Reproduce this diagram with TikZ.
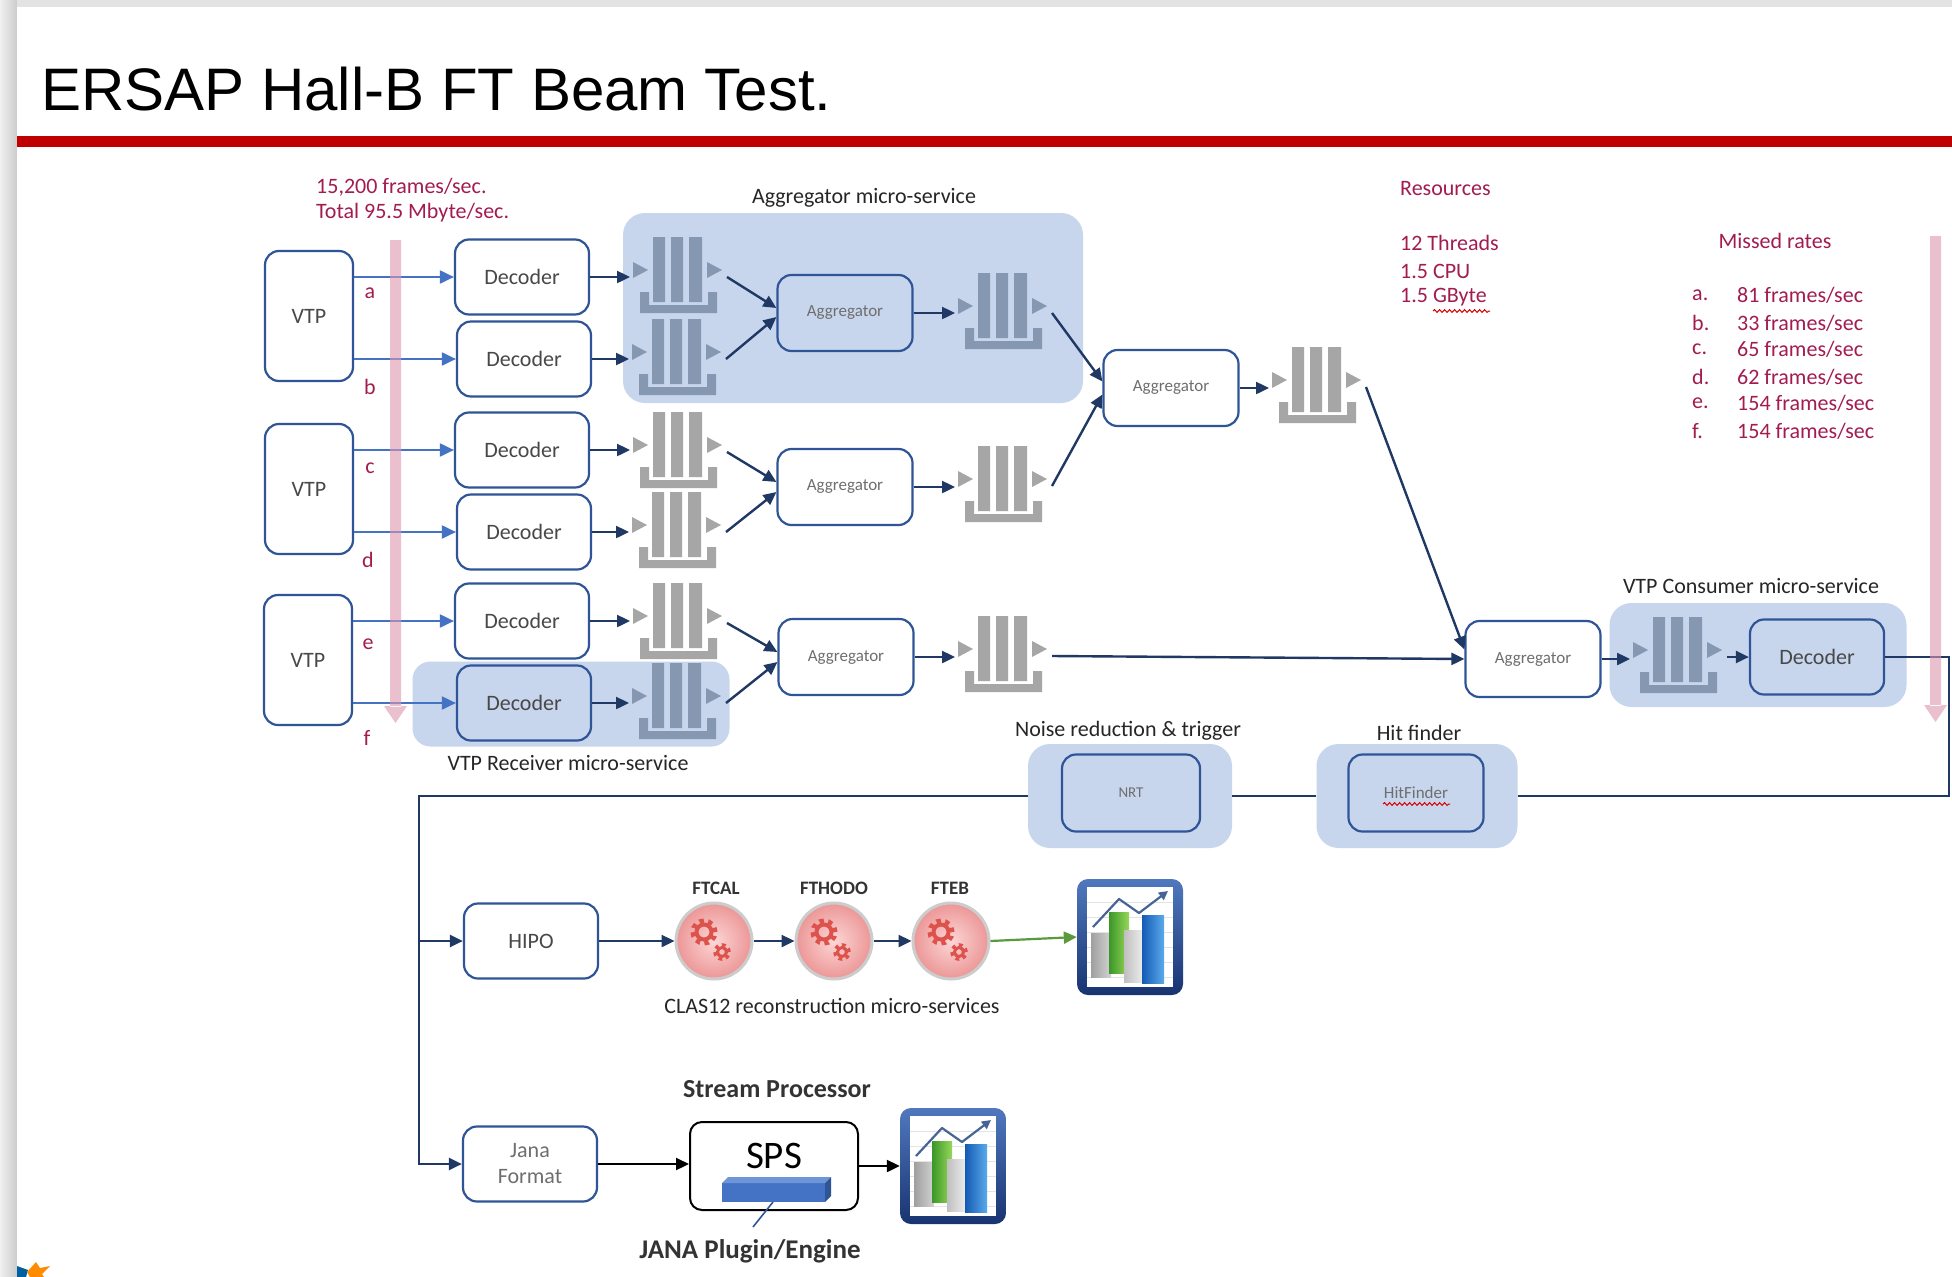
\documentclass[tikz,border=0pt]{standalone}
\usepackage{fontspec}
\setmainfont{Carlito}
\newfontfamily\titlefont{Liberation Sans}
\usetikzlibrary{arrows.meta,decorations.pathmorphing,calc}

\definecolor{navy}{RGB}{32,56,100}
\definecolor{boxblue}{RGB}{47,85,151}
\definecolor{linkblue}{RGB}{68,114,196}
\definecolor{regionblue}{RGB}{199,214,237}
\definecolor{qgray}{RGB}{166,166,166}
\definecolor{qblue}{RGB}{134,151,178}
\definecolor{crimson}{RGB}{163,28,80}
\definecolor{pinkbar}{RGB}{220,150,176}
\definecolor{titlered}{RGB}{192,0,0}
\definecolor{boxtxt}{RGB}{72,72,72}
\definecolor{aggtxt}{RGB}{110,110,110}
\definecolor{flowgreen}{RGB}{90,154,60}
\definecolor{gearred}{RGB}{222,82,76}
\definecolor{pinkin}{RGB}{252,214,214}
\definecolor{pinkout}{RGB}{236,150,150}
\definecolor{frameA}{RGB}{80,120,190}
\definecolor{frameB}{RGB}{24,52,112}
\definecolor{chgreenA}{RGB}{60,150,40}
\definecolor{chgreenB}{RGB}{150,215,90}
\definecolor{chblueA}{RGB}{20,90,180}
\definecolor{chblueB}{RGB}{90,170,235}
\definecolor{trend}{RGB}{70,100,150}
\definecolor{barfront}{RGB}{68,114,196}
\definecolor{bartop}{RGB}{110,150,215}
\definecolor{barside}{RGB}{47,85,151}

\newcommand\fsz[1]{\fontsize{#1}{#1}\selectfont}

\tikzset{
  region/.style={fill=regionblue, rounded corners=22pt, inner sep=0pt},
  box/.style={draw=boxblue, line width=2.2pt, rounded corners=14pt, inner sep=0pt,
    text=boxtxt, font=\fsz{22}},
  vtpbox/.style={box, minimum width=88pt, minimum height=130pt},
  decbox/.style={box, minimum width=134pt, minimum height=75pt},
  aggbox/.style={box, minimum width=135pt, minimum height=76pt, text=aggtxt, font=\fsz{17}},
  flow/.style={draw=navy, line width=2.4pt, -{Triangle[length=13pt,width=12pt]}},
  flowline/.style={draw=navy, line width=2.4pt},
  vtplink/.style={draw=linkblue, line width=2pt, -{Triangle[length=14pt,width=13pt]}},
  blackflow/.style={draw=black, line width=2.2pt, -{Triangle[length=13pt,width=12pt]}},
  greenflow/.style={draw=flowgreen, line width=2.2pt, -{Triangle[length=13pt,width=12pt]}},
  lbl/.style={inner sep=0pt, font=\fsz{22}, text=black!85},
  crim/.style={inner sep=0pt, font=\fsz{22}, text=crimson},
  boldlbl/.style={inner sep=0pt, text=black!80, font=\bfseries\fsz{#1}},
  recon/.style={circle, minimum size=76pt, inner sep=0pt, inner color=pinkin,
    outer color=pinkout, draw=gray!40, line width=3pt},
  iconslot/.style={minimum width=106pt, minimum height=116pt, inner sep=0pt},
  squiggle/.style={draw=red!85!black, line width=1pt, decorate,
    decoration={snake, amplitude=1.4pt, segment length=5pt}},
  % queue glyph: three bars, a tray and in/out triangles
  pics/queue/.style={code={
    \fill[#1] (-24,-33) rectangle (-12,32) (-6,-33) rectangle (6,32) (12,-33) rectangle (25,32);
    \fill[#1] (-37,22) -- (-28,22) -- (-28,35) -- (31,35) -- (31,22) -- (40,22)
              -- (40,43) -- (-37,43) -- cycle;
    \fill[#1] (-44,-8) -- (-29,0) -- (-44,8) -- cycle (30,-8) -- (45,0) -- (30,8) -- cycle;
    \coordinate (-in) at (-47,7);
    \coordinate (-out) at (50,7);
  }},
  % two red gears
  pics/gears/.style={code={
    \draw[gearred, line width=4pt] (-10,-9) circle (7.5pt);
    \draw[gearred, line width=4.2pt, dash pattern=on 4.52pt off 4.52pt] (-10,-9) circle (11.5pt);
    \draw[gearred, line width=3pt] (8,11) circle (4.5pt);
    \draw[gearred, line width=3.2pt, dash pattern=on 3.77pt off 3.77pt] (8,11) circle (7.2pt);
  }},
  % framed bar chart icon
  pics/chart/.style={code={
    \shade[rounded corners=11pt, top color=frameA, bottom color=frameB] (-53,-58) rectangle (53,58);
    \fill[white] (-43,-50) rectangle (43,50);
    \foreach \gy in {-35,-20,...,40} \draw[gray!22, line width=0.6pt] (-43,\gy) -- (43,\gy);
    \shade[left color=gray!75, right color=gray!35] (-39,-4) rectangle (-19,40);
    \shade[left color=chgreenA, right color=chgreenB] (-21,-25) rectangle (-1,36);
    \shade[left color=gray!50, right color=gray!12] (-6,-7) rectangle (14,45);
    \shade[left color=chblueA, right color=chblueB] (12,-22) rectangle (34,46);
    \draw[trend, line width=2.2pt, line join=round, -{Triangle[length=9pt,width=9pt]}]
      (-37,-10) -- (-11,-38) -- (9,-24) -- (38,-46);
  }},
}

\begin{document}
\begin{tikzpicture}[x=1pt,y=-1pt]
\useasboundingbox (0,0) rectangle (1952,1277);

% slide page and its shadow
\fill[gray!22] (0,0) rectangle (1952,1277);
\shade[left color=gray!12, right color=gray!40] (0,0) rectangle (17,1277);
\fill[white] (17,7) rectangle (1952,1277);
\fill[teal!75!blue] (17,1277) -- (17,1266) -- (28,1270) -- (26,1277) -- cycle;
\fill[orange!90!yellow] (27,1272) -- (36,1262) -- (40,1268) -- (50,1266) -- (42,1274)
   -- (44,1277) -- (30,1277) -- cycle;

% heading
\node[anchor=base west, inner sep=0pt, font=\titlefont\fontsize{60}{72}\selectfont]
  (title) at (41,110) {ERSAP Hall-B FT Beam Test.};
\fill[titlered] (17,136) rectangle (1952,147);

% micro-service regions
\node[region, minimum width=460pt, minimum height=190pt] (rgAgg) at (853,308) {};
\node[region, rounded corners=18pt, minimum width=317pt, minimum height=85pt] (rgRecv) at (571,704) {};
\node[region, minimum width=297pt, minimum height=104pt] (rgCons) at (1758,655) {};
\node[region, minimum width=204pt, minimum height=104pt] (rgNRT) at (1130,796) {};
\node[region, minimum width=201pt, minimum height=104pt] (rgHit) at (1417,796) {};

\node[lbl] (lblAgg) at (864,198) {Aggregator micro-service};
\node[lbl] (lblRecv) at (568,763) {VTP Receiver micro-service};
\node[lbl] (lblCons) at (1751,586) {VTP Consumer micro-service};
\node[lbl] (lblNRT) at (1128,731) {Noise reduction \& trigger};
\node[lbl] (lblHit) at (1419,733) {Hit finder};

% rates and resources
\node[crim, anchor=west] (rate1) at (316,187) {15,200 frames/sec.};
\node[crim, anchor=west] (rate2) at (316,213) {Total 95.5 Mbyte/sec.};
\node[crim, anchor=west] (res) at (1400,189) {Resources};
\node[crim, anchor=west] (res1) at (1400,243) {12 Threads};
\node[crim, anchor=west] (res2) at (1400,271) {1.5 CPU};
\node[crim, anchor=west] (res3) at (1400,297) {1.5 GByte};
\draw[squiggle] (1433,311) -- (1490,311);
\node[crim] (missed) at (1775,241) {Missed rates};
\foreach \k/\yy/\v in {a/295/81, b/323/33, c/349/65, d/377/62, e/403/154, f/431/154}{
  \node[crim, anchor=west] (ml\k) at (1692,\yy) {\k.};
  \node[crim, anchor=west] (mv\k) at (1737,\yy) {\v\ frames/sec};
}

% VTP sources and decoders
\node[vtpbox] (vtp1) at (309,316) {VTP};
\node[vtpbox] (vtp2) at (309,489) {VTP};
\node[vtpbox] (vtp3) at (308,660) {VTP};
\node[decbox] (d1) at (522,277) {Decoder};
\node[decbox] (d2) at (524,359) {Decoder};
\node[decbox] (d3) at (522,450) {Decoder};
\node[decbox] (d4) at (524,532) {Decoder};
\node[decbox] (d5) at (522,621) {Decoder};
\node[decbox] (d6) at (524,703) {Decoder};

\draw[vtplink] (vtp1.east |- d1) -- (d1.west);
\draw[vtplink] (vtp1.east |- d2) -- (d2.west);
\draw[vtplink] (vtp2.east |- d3) -- (d3.west);
\draw[vtplink] (vtp2.east |- d4) -- (d4.west);
\draw[vtplink] (vtp3.east |- d5) -- (d5.west);
\draw[vtplink] (vtp3.east |- d6) -- (d6.west);

\foreach \k/\xx/\yy in {a/370/293, b/370/387, c/370/468, d/368/560, e/368/644, f/367/738}
  \node[crim] (ch\k) at (\xx,\yy) {\k};

% queues
\pic (q1) at (677,270) {queue=qblue};
\pic (q2) at (676,352) {queue=qblue};
\pic (q3) at (677,445) {queue=qgray};
\pic (q4) at (676,525) {queue=qgray};
\pic (q5) at (677,616) {queue=qgray};
\pic (q6) at (676,696) {queue=qblue};
\pic (qa1) at (1002,306) {queue=qblue};
\pic (qa2) at (1002,479) {queue=qgray};
\pic (qa3) at (1002,649) {queue=qgray};
\pic (qm) at (1316,380) {queue=qgray};
\pic (qc) at (1677,650) {queue=qblue};

% aggregators
\node[aggbox] (a1) at (845,313) {Aggregator};
\node[aggbox] (a2) at (845,487) {Aggregator};
\node[aggbox] (a3) at (846,657) {Aggregator};
\node[aggbox] (am) at (1171,388) {Aggregator};
\node[aggbox] (af) at (1533,659) {Aggregator};
\node[decbox] (df) at (1817,657) {Decoder};

% decoder to queue
\foreach \n in {1,...,6}
  \draw[flow] (d\n.east) -- (d\n.east -| q\n-in);

% queues into aggregators
\draw[flow] (q1-out) -- ([yshift=5pt]a1.west);
\draw[flow] (q2-out) -- ([yshift=-4pt]a1.west);
\draw[flow] (q3-out) -- ([yshift=5pt]a2.west);
\draw[flow] (q4-out) -- ([yshift=-5pt]a2.west);
\draw[flow] (q5-out) -- ([yshift=5pt]a3.west);
\draw[flow] (q6-out) -- ([yshift=-5pt]a3.west);
\draw[flow] (a1.east) -- (a1.east -| qa1-in);
\draw[flow] (a2.east) -- (a2.east -| qa2-in);
\draw[flow] (a3.east) -- (a3.east -| qa3-in);
\draw[flow] (qa1-out) -- ([yshift=6.5pt]am.west);
\draw[flow] (qa2-out) -- ([yshift=-6.5pt]am.west);
\draw[flow] (am.east) -- (am.east -| qm-in);
\draw[flow] (qm-out) -- ([yshift=9.5pt]af.west);
\draw[flow] (qa3-out) -- (af.west);
\draw[flow] (af.east) -- (af.east -| qc-in);
\draw[flow] (qc-out) -- (qc-out -| df.west);

% processing chain
\node[box, minimum width=138pt, minimum height=77pt, font=\fsz{15}, text=aggtxt] (nrt) at (1131,793) {NRT};
\node[box, minimum width=135pt, minimum height=77pt, font=\fsz{17}, text=aggtxt] (hitf) at (1416,793) {HitFinder};
\draw[squiggle] (1383,804) -- (1450,804);

\node[decbox] (hipo) at (531,941) {HIPO};
\node[decbox, align=center, text=aggtxt, font=\fontsize{22}{26}\selectfont] (jana) at (530,1164) {Jana\\Format};

\coordinate (eastturn) at (1949,796);
\coordinate (westturn) at (419,796);
\draw[flowline] (df.east) -| (eastturn) -- (rgHit.east);
\draw[flowline] (rgHit.west) -- (rgNRT.east);
\draw[flow] (rgNRT.west) -- (westturn) |- (jana.west);
\draw[flow] (westturn) |- (hipo.west);

% CLAS12 reconstruction services
\node[recon] (ftcal) at (714,941) {};
\node[recon] (fthodo) at (834,941) {};
\node[recon] (fteb) at (951,941) {};
\pic at (ftcal) {gears};
\pic at (fthodo) {gears};
\pic at (fteb) {gears};
\node[boldlbl=19] (lcal) at (716,888) {FTCAL};
\node[boldlbl=19] (lhodo) at (834,888) {FTHODO};
\node[boldlbl=19] (leb) at (950,888) {FTEB};
\node[lbl] (lclas) at (832,1006) {CLAS12 reconstruction micro-services};

\node[iconslot] (chart1) at (1130,937) {};
\pic at (chart1) {chart};
\draw[flow] (hipo.east) -- (ftcal.west);
\draw[flow] (ftcal.east) -- (fthodo.west);
\draw[flow] (fthodo.east) -- (fteb.west);
\draw[greenflow] (fteb.east) -- (chart1.west);

% stream processor
\node[boldlbl=26] (lsp) at (777,1089) {Stream Processor};
\node[draw=black, line width=2pt, rounded corners=12pt, minimum width=168pt,
  minimum height=88pt, inner sep=0pt] (sps) at (774,1166) {};
\node[inner sep=0pt, font=\fsz{39}, text=black] (spstxt) at (774,1156) {SPS};
\fill[barfront] (722,1183) rectangle (825,1202);
\fill[bartop] (722,1183) -- (728,1177) -- (831,1177) -- (825,1183) -- cycle;
\fill[barside] (825,1183) -- (831,1177) -- (831,1196) -- (825,1202) -- cycle;
\coordinate (barfoot) at (773,1202);
\node[boldlbl=27] (ljana) at (750,1251) {JANA Plugin/Engine};
\coordinate (plugtip) at (753,1227);
\draw[boxblue, line width=1.6pt] (barfoot) -- (plugtip);

\node[iconslot] (chart2) at (953,1166) {};
\pic at (chart2) {chart};
\draw[blackflow] (jana.east) -- (jana.east -| sps.west);
\draw[blackflow] (sps.east) -- (chart2.west);

% rate markers
\fill[pinkbar, opacity=0.6] (390,240) rectangle (401,707) (384,706) -- (407,706) -- (395.5,723) -- cycle;
\fill[pinkbar, opacity=0.6] (1930,236) rectangle (1941,706) (1924,705) -- (1947,705) -- (1935.5,722) -- cycle;
\end{tikzpicture}
\end{document}
